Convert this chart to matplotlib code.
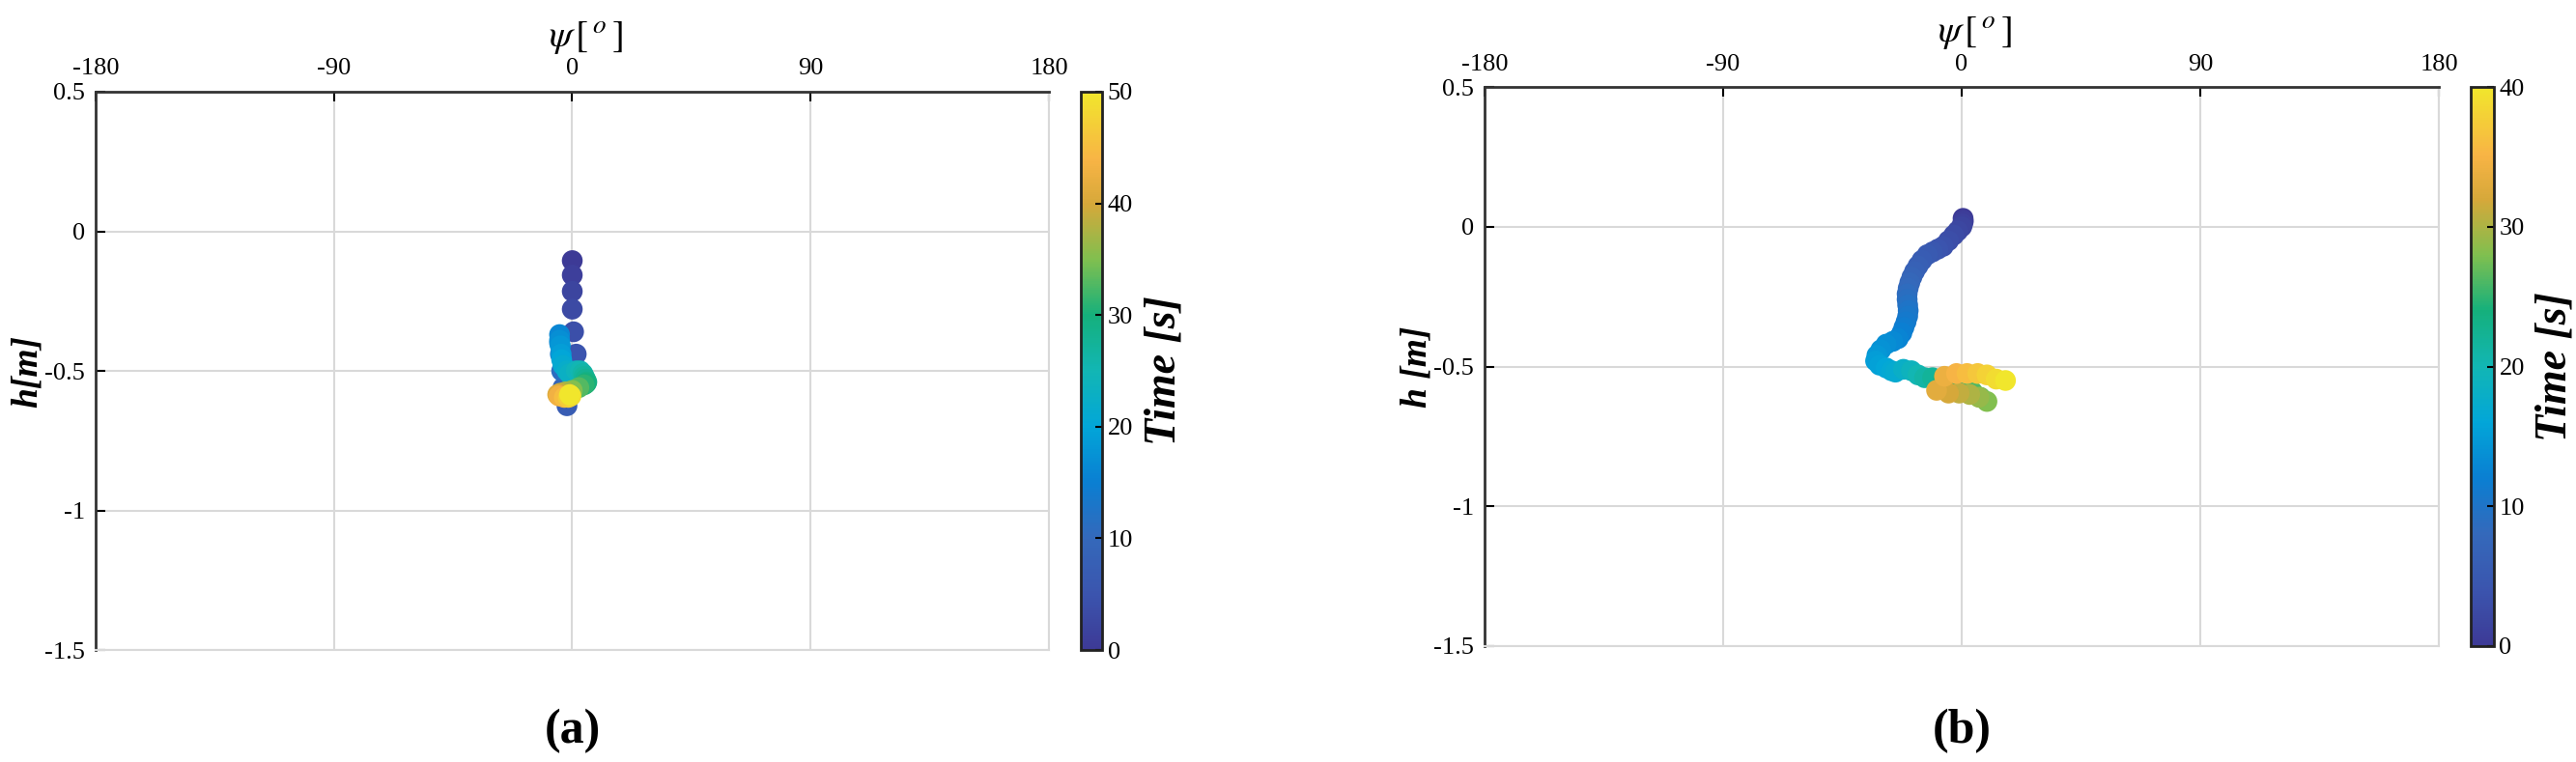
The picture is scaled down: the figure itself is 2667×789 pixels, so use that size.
import numpy as np
import matplotlib
matplotlib.use('Agg')
import matplotlib.pyplot as plt
from matplotlib.colors import LinearSegmentedColormap

plt.rcParams['font.family'] = ['Liberation Serif', 'DejaVu Serif']
plt.rcParams['mathtext.fontset'] = 'stix'
plt.rcParams['axes.unicode_minus'] = False

# parula-like colormap, colours
parula = LinearSegmentedColormap.from_list('parula_like', [
    (0.00, '#3d3a96'), (0.10, '#3b55ae'), (0.20, '#3469bb'),
    (0.30, '#0a7fd2'), (0.40, '#02a6d8'), (0.50, '#12b6b4'),
    (0.60, '#15b07c'), (0.70, '#80bf4f'), (0.80, '#d6a83a'),
    (0.88, '#f8b445'), (1.00, '#f1e62c')])

# panel (a): time [s], heading psi [deg], depth h [m]
t_a = [0, 1, 2, 3, 4, 5, 6, 7, 9, 11, 13, 15, 16, 17, 18, 19,
       20, 21, 22, 23, 24, 25, 26, 27, 28, 29, 30, 31, 33, 35, 37, 39, 41,
       43, 45, 47, 49, 50]
psi_a = [0.0, 0.0, 0.0, 0.0, 0.5, 1.5, 0.5, -2.0, -3.5, -4.0, -4.5, -4.8,
         -4.8, -4.8, -4.5, -4.2, -4.0, -3.5, -2.0, -1.0,
         1.5, 3.0, 4.0, 4.5, 5.0, 5.5, 5.2, 4.5, 2.5, 0.0, -2.5, -4.5, -5.5,
         -5.0, -3.0, -1.5, -0.5, -1.0]
h_a = [-0.105, -0.157, -0.215, -0.279, -0.36, -0.44, -0.53, -0.625, -0.56,
       -0.50, -0.44, -0.40, -0.37, -0.39, -0.41, -0.44, -0.46, -0.48, -0.50,
       -0.51, -0.50, -0.50, -0.51, -0.52, -0.53,
       -0.54, -0.545, -0.55, -0.56, -0.57, -0.575, -0.58, -0.585, -0.59,
       -0.595, -0.595, -0.59, -0.585]

# panel (b)
t_b = [0.0, 0.5, 1.0, 1.5, 2.0, 2.5, 3.0, 3.5, 4.0, 4.5, 5.0, 5.5, 6.0, 6.5,
       7.0, 7.5, 8.0, 8.5, 9.0, 9.5, 10.0, 10.5, 11.0, 11.5, 12.0, 12.5,
       13.0, 13.5, 14.0, 14.5, 15.0, 15.5, 16.0, 16.5, 17.0, 18.0, 19.0,
       20.0, 21.0, 22.0, 23.0, 24.0, 25.0, 26.0, 27.0, 28.0, 29.0, 30.0,
       31.0, 32.0, 33.0, 34.0, 35.0, 36.0, 37.0, 38.0, 39.0, 40.0]
psi_b = [0.5, 0.6, 0.3, 0.0, -1.5, -3.0, -5.0, -7.0, -9.0, -11.0, -13.0,
         -15.0, -16.5, -17.8, -18.8, -19.6, -20.2, -20.6, -20.6, -20.4,
         -20.2, -20.4, -21.0, -21.8, -22.6, -24.0, -26.0, -28.5, -30.5,
         -32.0, -32.5, -31.0, -28.5, -26.5, -25.0, -22.0, -19.0, -16.5,
         -14.0, -11.0, -7.0, -3.0, 1.0, 4.0, 7.0, 9.5, 6.5, 3.0, -1.0, -5.0,
         -9.5, -6.5, -2.0, 2.0, 6.0, 9.5, 13.0, 16.5]
h_b = [0.03, 0.02, 0.01, 0.0, -0.015, -0.03, -0.05, -0.07, -0.08, -0.09,
       -0.10, -0.12, -0.14, -0.16, -0.18, -0.20, -0.22, -0.24, -0.26, -0.28,
       -0.30, -0.32, -0.34, -0.36, -0.38, -0.40, -0.41, -0.42, -0.44, -0.46,
       -0.48, -0.495, -0.505, -0.515, -0.52, -0.51, -0.515, -0.53, -0.54,
       -0.54, -0.545, -0.55, -0.57, -0.59, -0.61, -0.625, -0.61, -0.60,
       -0.595, -0.595, -0.585, -0.535, -0.525, -0.525, -0.525, -0.53,
       -0.545, -0.55]

x_ticks = [-180, -90, 0, 90, 180]
y_ticks = [0.5, 0, -0.5, -1, -1.5]
y_ticklabels = ['0.5', '0', '-0.5', '-1', '-1.5']

fig = plt.figure(figsize=(26.67, 7.89), dpi=100)


def panel(ax_rect, cb_rect, t, psi, h, tmax, ylab, tag):
    ax = fig.add_axes(ax_rect)
    sc = ax.scatter(psi, h, c=t, cmap=parula, vmin=0, vmax=tmax, s=240,
                    edgecolors='none', zorder=3)
    ax.set_xlim(-180, 180)
    ax.set_ylim(-1.5, 0.5)
    ax.set_xticks(x_ticks)
    ax.set_yticks(y_ticks)
    ax.set_yticklabels(y_ticklabels)
    ax.xaxis.tick_top()
    ax.xaxis.set_label_position('top')
    ax.grid(True, color='#d9d9d9', linewidth=1.5)
    ax.set_axisbelow(True)
    ax.tick_params(direction='in', length=7, width=1.5, labelsize=19,
                   top=True, bottom=False, right=False)
    ax.tick_params(axis='x', pad=9)
    ax.tick_params(axis='y', pad=8)
    for s in ['left', 'top']:
        ax.spines[s].set_color('#333333')
        ax.spines[s].set_linewidth(2)
    for s in ['right', 'bottom']:
        ax.spines[s].set_color('#d9d9d9')
        ax.spines[s].set_linewidth(1.5)
    ax.set_xlabel(r'$\psi\,[\,^{o}\,]$', fontsize=28, labelpad=9)
    ax.xaxis.label.set_x(0.514)
    ax.set_ylabel(ylab, fontsize=27, fontweight='bold', style='italic',
                  labelpad=0)
    cax = fig.add_axes(cb_rect)
    cb = fig.colorbar(sc, cax=cax, ticks=np.arange(0, tmax + 1, 10))
    cb.outline.set_linewidth(2)
    cb.outline.set_edgecolor('#222222')
    cax.tick_params(direction='in', length=5, width=1.5, labelsize=19,
                    pad=4)
    cb.set_label('Time [s]', fontsize=33, fontweight='bold', style='italic',
                 labelpad=8)
    fig.text(ax_rect[0] + ax_rect[2] / 2, 0.04, tag, ha='center',
             va='center', fontsize=36, fontweight='bold')


panel([0.0371, 0.1470, 0.3701, 0.7326], [0.4196, 0.1470, 0.0083, 0.7326],
      t_a, psi_a, h_a, 50, 'h[m]', '(a)')
panel([0.5763, 0.1521, 0.3705, 0.7338], [0.9591, 0.1521, 0.0090, 0.7338],
      t_b, psi_b, h_b, 40, 'h [m]', '(b)')

fig.savefig('out.png', dpi=100)
